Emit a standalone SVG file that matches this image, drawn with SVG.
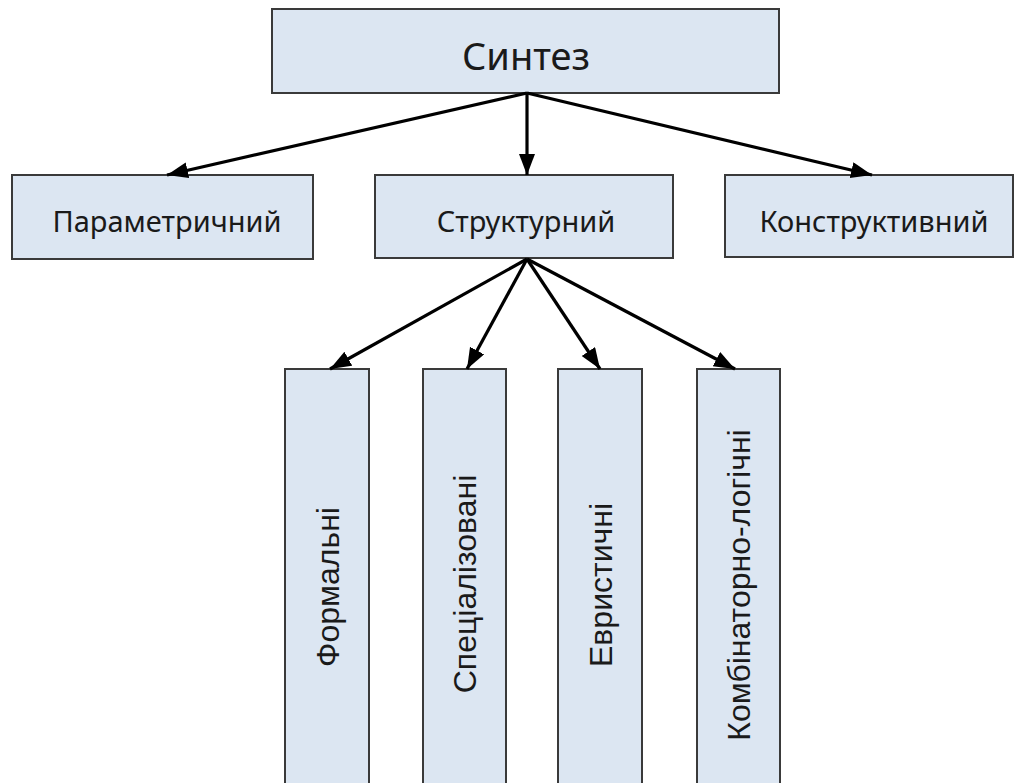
<svg xmlns="http://www.w3.org/2000/svg" width="1018" height="783" viewBox="0 0 1018 783">
<style>
.box{fill:#dce6f2;stroke:#3a3a3a;stroke-width:2}
.t{font-family:"Noto Sans","Open Sans","Liberation Sans",sans-serif;fill:#1a1a1a;text-anchor:middle}
.v{font-family:"Liberation Sans",Arial,sans-serif;font-size:32px;fill:#1a1a1a;text-anchor:middle}
.c{stroke:#000;stroke-width:3.2;fill:none;marker-end:url(#ah)}
</style>
<defs>
<marker id="ah" markerUnits="userSpaceOnUse" markerWidth="24" markerHeight="20" refX="21" refY="8" orient="auto">
<path d="M0,0 L21,8 L0,16 Z" fill="#000"/>
</marker>
</defs>
<rect width="1018" height="783" fill="#fff"/>
<g id="sintez"><rect class="box" x="272" y="9" width="507" height="84"/><text class="t" x="526" y="70" font-size="38">Синтез</text></g>
<g id="param"><rect class="box" x="12" y="175" width="301" height="84"/><text class="t" x="167" y="232" font-size="29">Параметричний</text></g>
<g id="struct"><rect class="box" x="375" y="175" width="298" height="83"/><text class="t" x="526" y="232" font-size="29">Структурний</text></g>
<g id="konstr"><rect class="box" x="725" y="175" width="288" height="82"/><text class="t" x="874" y="232" font-size="29">Конструктивний</text></g>
<g id="formal"><rect class="box" x="285" y="369" width="84" height="440"/><text class="v" transform="translate(339,587) rotate(-90)">Формальні</text></g>
<g id="spec"><rect class="box" x="423" y="369" width="83" height="440"/><text class="v" transform="translate(476,584) rotate(-90)">Спеціалізовані</text></g>
<g id="evr"><rect class="box" x="558" y="369" width="84" height="440"/><text class="v" transform="translate(612,585) rotate(-90)">Евристичні</text></g>
<g id="komb"><rect class="box" x="697" y="369" width="83" height="440"/><text class="v" transform="translate(750,585) rotate(-90)">Комбінаторно-логічні</text></g>
<g id="connectors">
<line class="c" x1="527" y1="93" x2="167" y2="175"/>
<line class="c" x1="527" y1="93" x2="527" y2="175"/>
<line class="c" x1="527" y1="93" x2="872" y2="175"/>
<line class="c" x1="527" y1="259" x2="330" y2="369"/>
<line class="c" x1="527" y1="259" x2="467" y2="369"/>
<line class="c" x1="527" y1="259" x2="600" y2="369"/>
<line class="c" x1="527" y1="259" x2="735" y2="369"/>
</g>
</svg>
